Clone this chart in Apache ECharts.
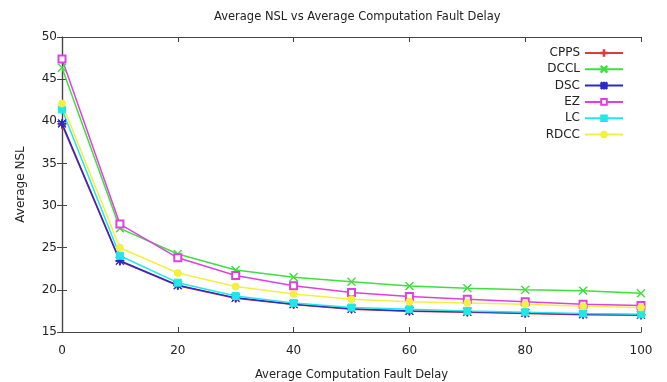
<!DOCTYPE html>
<html>
<head>
<meta charset="utf-8">
<script src="https://cdn.jsdelivr.net/npm/echarts@6/dist/echarts.min.js"></script>
<style>html,body{margin:0;padding:0;background:#fff;}#c{width:667px;height:382px;}</style>
</head>
<body>
<div id="c"></div>
<script>
const xValues = [0, 10, 20, 30, 40, 50, 60, 70, 80, 90, 100];
const seriesNames = ['CPPS', 'DCCL', 'DSC', 'EZ', 'LC', 'RDCC'];
const cpps = [39.6, 23.4, 20.5, 19.0, 18.25, 17.7, 17.45, 17.35, 17.2, 17.05, 17.0];
const dccl = [46.35, 27.3, 24.25, 22.35, 21.5, 20.97, 20.45, 20.2, 20.0, 19.9, 19.6];
const dsc = [39.75, 23.45, 20.55, 19.05, 18.3, 17.75, 17.5, 17.4, 17.25, 17.1, 17.05];
const ez = [47.4, 27.8, 23.8, 21.7, 20.5, 19.7, 19.2, 18.9, 18.6, 18.3, 18.15];
const lc = [41.4, 24.05, 20.85, 19.27, 18.45, 17.9, 17.7, 17.5, 17.35, 17.2, 17.1];
const rdcc = [42.1, 25.0, 22.0, 20.4, 19.5, 18.9, 18.6, 18.45, 18.3, 18.05, 17.9];
const xTicks = [0, 20, 40, 60, 80, 100];
const yTicks = [15, 20, 25, 30, 35, 40, 45, 50];

const t = 1.1;
const PLUSP = `M${10-t},0H${10+t}V${10-t}H20V${10+t}H${10+t}V20H${10-t}V${10+t}H0V${10-t}H${10-t}Z`;
const a = 1.2;
const XP = `M0,${a}L${a},0L10,${10-a}L${20-a},0L20,${a}L${10+a},10L20,${20-a}L${20-a},20L10,${10+a}L${a},20L0,${20-a}L${10-a},10Z`;
const PLUS = 'path://' + PLUSP;
const CROSS = 'path://' + XP;
const STAR = 'path://' + PLUSP + XP;

const colors = ['#e03a3a', '#3ee03e', '#2a2ac8', '#e040e0', '#20e8e8', '#f4f040'];
const symbols = [PLUS, CROSS, STAR, 'emptyRect', 'rect', 'circle'];
const sizes = [8, 8, 8, 7, 7, 7];
const allData = [cpps, dccl, dsc, ez, lc, rdcc];

const FONT = 'DejaVu Sans';
const axisColor = '#444';

const chart = echarts.init(document.getElementById('c'), null, {renderer: 'canvas'});
const series = seriesNames.map((n, i) => ({
  name: n,
  type: 'line',
  data: xValues.map((x, j) => [x, allData[i][j]]),
  symbol: symbols[i],
  symbolSize: sizes[i],
  showSymbol: true,
  clip: false,
  lineStyle: {color: colors[i], width: 1.5},
  itemStyle: {color: colors[i], borderColor: colors[i], borderWidth: 1},
  emphasis: {disabled: true},
  animation: false
}));

chart.setOption({
  backgroundColor: '#fff',
  animation: false,
  title: {
    text: 'Average NSL vs Average Computation Fault Delay',
    left: 209, top: 6,
    textStyle: {fontFamily: FONT, fontSize: 11.5, fontWeight: 'normal', color: '#222'}
  },
  legend: {
    orient: 'vertical',
    right: 38, top: 42,
    align: 'right',
    itemWidth: 38, itemHeight: 7,
    itemGap: 4.3,
    textStyle: {fontFamily: FONT, fontSize: 12, color: '#222'},
    data: seriesNames
  },
  grid: {left: 62, right: 26, top: 37, bottom: 50, containLabel: false, outerBoundsMode: 'none'},
  xAxis: [{
    type: 'value', min: 0, max: 100, interval: 20,
    name: 'Average Computation Fault Delay', nameLocation: 'middle', nameGap: 37,
    nameTextStyle: {fontFamily: FONT, fontSize: 11.5, color: '#222'},
    axisLine: {show: true, lineStyle: {color: axisColor, width: 1.2}},
    axisTick: {show: true, inside: true, length: 5, lineStyle: {color: axisColor}},
    axisLabel: {fontFamily: FONT, fontSize: 12, color: '#222', margin: 13,
      formatter: v => xTicks.includes(v) ? String(v) : ''},
    splitLine: {show: false}
  }, {
    type: 'value', min: 0, max: 100, interval: 20, position: 'top',
    axisLine: {show: true, lineStyle: {color: axisColor, width: 1.2}},
    axisTick: {show: true, inside: true, length: 5, lineStyle: {color: axisColor}},
    axisLabel: {show: false}, splitLine: {show: false}
  }],
  yAxis: [{
    type: 'value', min: 15, max: 50, interval: 5,
    name: 'Average NSL', nameLocation: 'middle', nameGap: 35,
    nameTextStyle: {fontFamily: FONT, fontSize: 12, color: '#222'},
    axisLine: {show: true, lineStyle: {color: axisColor, width: 1.2}},
    axisTick: {show: true, inside: true, length: 5, lineStyle: {color: axisColor}},
    axisLabel: {fontFamily: FONT, fontSize: 12, color: '#222', margin: 5,
      formatter: v => yTicks.includes(v) ? String(v) : ''},
    splitLine: {show: false}
  }, {
    type: 'value', min: 15, max: 50, interval: 5, position: 'right',
    axisLine: {show: true, lineStyle: {color: axisColor, width: 1.2}},
    axisTick: {show: true, inside: true, length: 5, lineStyle: {color: axisColor}},
    axisLabel: {show: false}, splitLine: {show: false}
  }],
  series: series
});
</script>
</body>
</html>
